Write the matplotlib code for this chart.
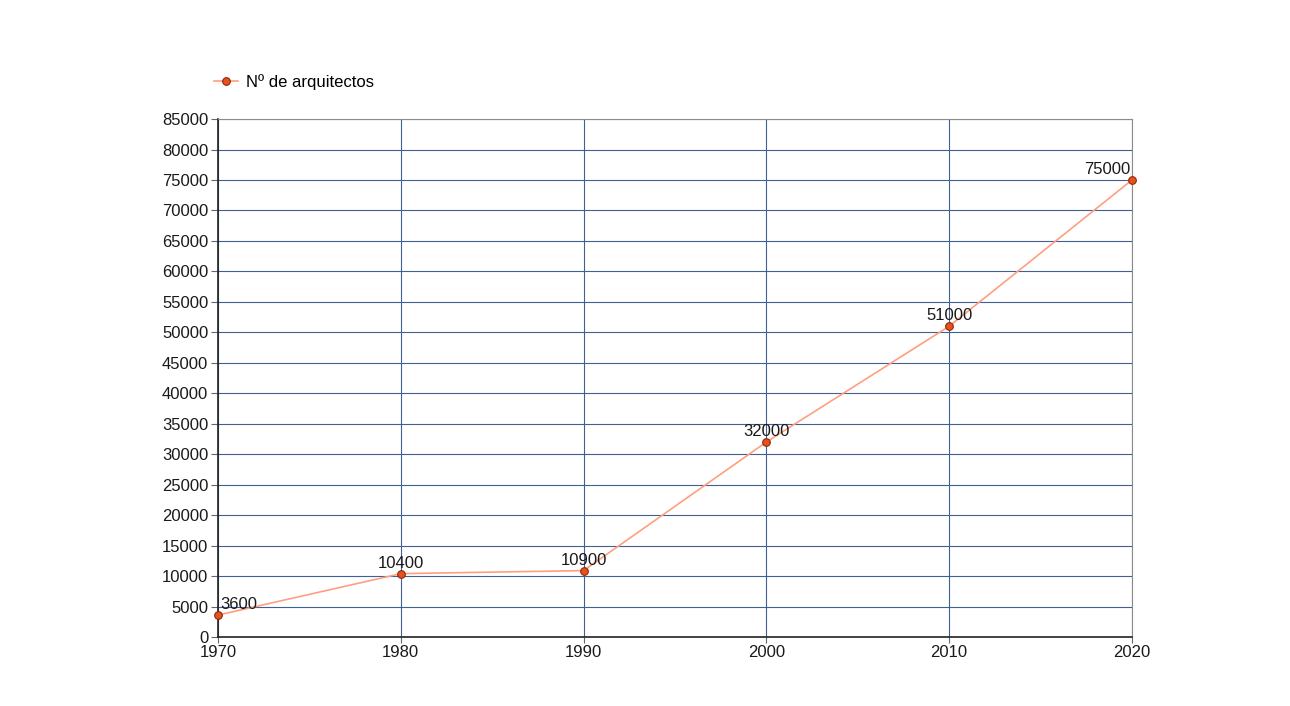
import matplotlib.pyplot as plt

years = [1970, 1980, 1990, 2000, 2010, 2020]
architects = [3600, 10400, 10900, 32000, 51000, 75000]
series_label = "Nº de arquitectos"

plt.rcParams['font.family'] = ['Liberation Sans', 'DejaVu Sans']

fig = plt.figure(figsize=(12.9, 7.06), dpi=100)
ax = fig.add_axes([0.169, 0.0977, 0.7085, 0.7337])

line, = ax.plot(years, architects, color="#ff9f7f", linewidth=1.2,
                marker="o", markersize=5.5, markerfacecolor="#e8501e",
                markeredgecolor="#8a2a0a", markeredgewidth=0.8,
                label=series_label, zorder=3, clip_on=False)

# data labels
for i, (x, y) in enumerate(zip(years, architects)):
    if i == 0:
        ha, dx = "left", 2
    elif i == len(years) - 1:
        ha, dx = "right", -1
    else:
        ha, dx = "center", 0
    ax.annotate(str(y), (x, y), xytext=(dx, 2), textcoords="offset points",
                ha=ha, va="bottom", fontsize=12, color="#1a1a1a")

ax.set_xlim(1970, 2020)
ax.set_ylim(0, 85000)
ax.set_xticks(years)
ax.set_yticks(range(0, 85001, 5000))
ax.tick_params(labelsize=12, length=4, colors="#1a1a1a", direction="out",
               pad=2)
ax.tick_params(axis="y", length=5, color="#666666")
ax.tick_params(axis="x", color="#666666")

ax.grid(True, color="#3f5f95", linewidth=0.8)
ax.set_axisbelow(True)
for side in ["top", "right"]:
    ax.spines[side].set_color("#8a8a8a")
    ax.spines[side].set_linewidth(0.8)
for side in ["left", "bottom"]:
    ax.spines[side].set_color("#222222")
    ax.spines[side].set_linewidth(1.2)

fig.legend(handles=[line], loc="center left", bbox_to_anchor=(0.166, 0.884),
           frameon=False, fontsize=12, handlelength=1.45, handletextpad=0.45,
           borderaxespad=0, borderpad=0)

fig.savefig("out.png", dpi=100)
